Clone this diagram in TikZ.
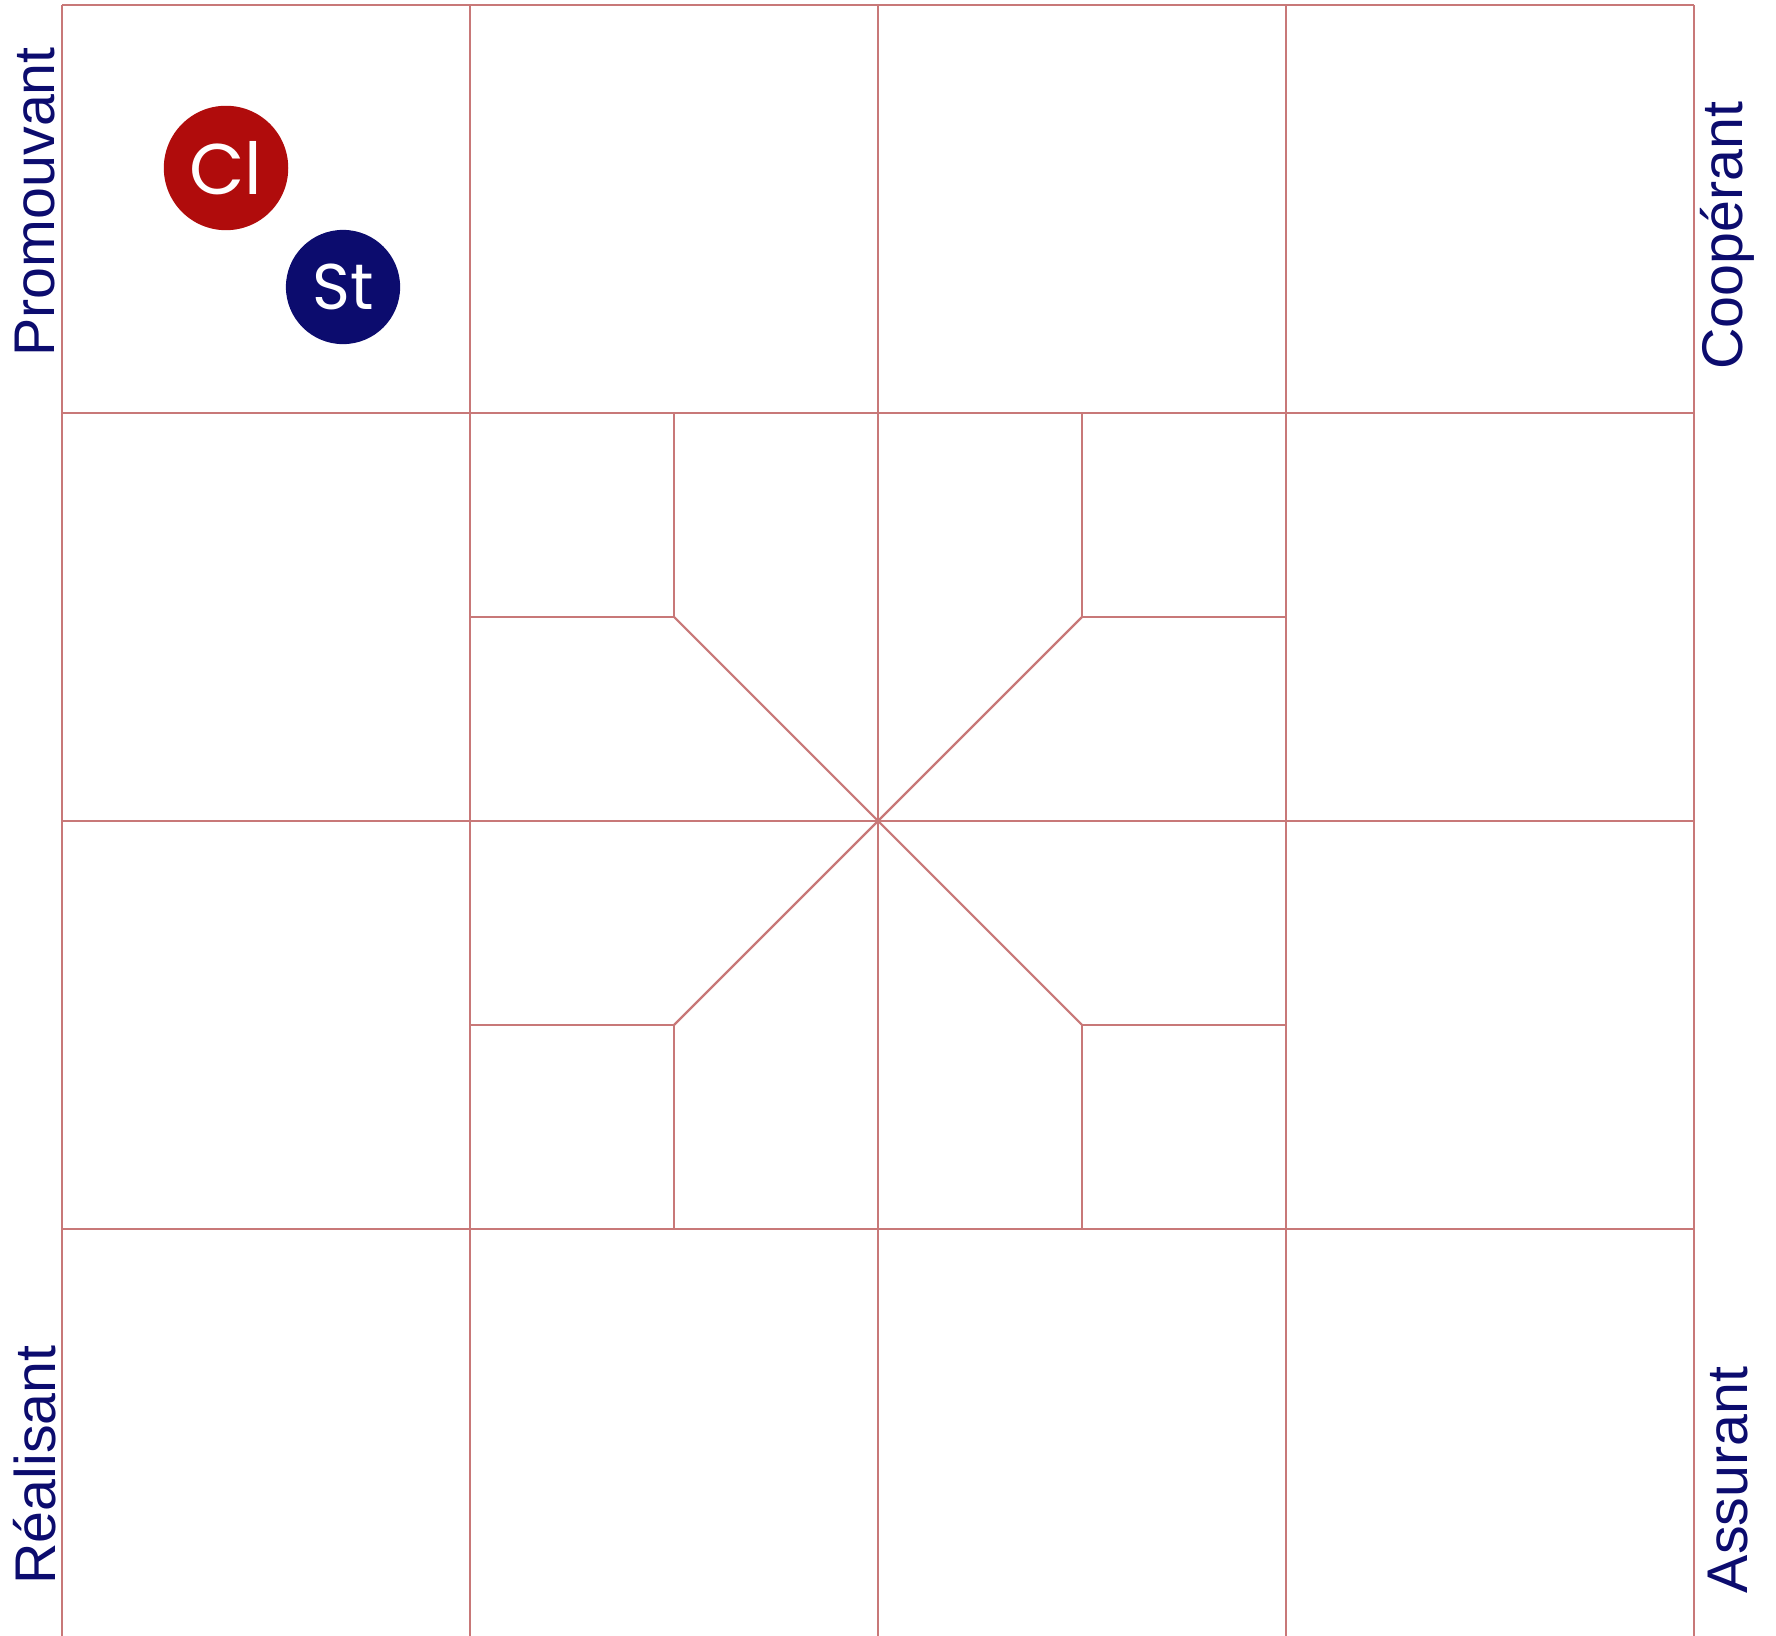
\documentclass[tikz,border=0pt]{standalone}
\usepackage{fontspec}
\setsansfont{Liberation Sans}
\newfontfamily\roundfont{Poppins}
\usetikzlibrary{positioning}
\definecolor{cnavy}{HTML}{0C0C6E}
\definecolor{cred}{HTML}{B00C0C}
\definecolor{cline}{HTML}{C87878}
\tikzset{
  every picture/.style={font=\sffamily},
  gridline/.style={draw=cline, line width=0.6pt},
  side/.style={text=cnavy, font=\sffamily\fontsize{16}{19}\selectfont, rotate=90, inner sep=0pt},
  token/.style={circle, fill=#1, text=white, inner sep=0pt, minimum size=1.22cm, font=\roundfont\fontsize{20}{24}\selectfont},
  token/.default=cnavy,
}
\begin{document}
\begin{tikzpicture}
  \useasboundingbox (-0.608,0.01) rectangle (16.804,16.049);
  % the 4 x 4 board
  \foreach \x in {0,4,...,16} \draw[gridline] (\x,0) -- (\x,16);
  \foreach \y in {4,8,...,16} \draw[gridline] (0,\y) -- (16,\y);
  % star in the middle square
  \coordinate (mid) at (8,8);
  \foreach \a/\b/\c/\d in {6/10/4/12, 10/10/12/12, 6/6/4/4, 10/6/12/4} {
    \draw[gridline] (\a,\d) -- (\a,\b) -- (\c,\b);
    \draw[gridline] (\a,\b) -- (mid);
  }
  % tokens
  \node[token=cred] (cl) at (1.608,14.402) {Cl};
  \node[token=cnavy, minimum size=1.12cm, font=\roundfont\fontsize{18}{22}\selectfont] (st) at (2.755,13.235) {St};
  % side labels
  \node[side] (promo) at (-0.265,14.07) {Promouvant};
  \node[side] (reali) at (-0.265,1.686) {Réalisant};
  \node[side] (coop) at (16.33,13.74) {Coopérant};
  \node[side] (assur) at (16.33,1.54) {Assurant};
\end{tikzpicture}
\end{document}
